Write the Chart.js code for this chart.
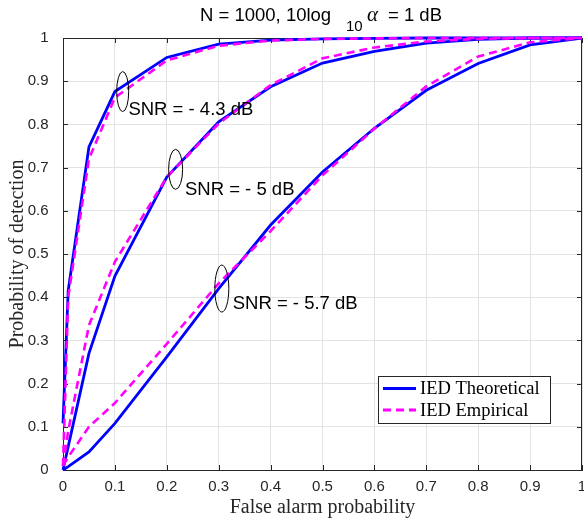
<!DOCTYPE html>
<html lang="en">
<head>
  <meta charset="UTF-8" />
  <title>IED detection – ROC</title>
  <script src="https://cdn.jsdelivr.net/npm/chart.js"></script>
  <style>
    html, body { margin: 0; padding: 0; background: #fff; overflow: hidden; }
    #roc { display: block; }
  </style>
</head>
<body>
<canvas id="roc" width="584" height="521"></canvas>

<script>
  // false alarm probability (x) and detection probability (y) for each SNR
  const pfa = [0, 0.01, 0.05, 0.1, 0.2, 0.3, 0.4, 0.5, 0.6, 0.7, 0.8, 0.9, 1];

  const theo43 = [0.108, 0.415, 0.748, 0.876, 0.955, 0.986, 0.995, 0.998, 0.999, 1, 1, 1, 1];
  const emp43  = [0.01, 0.40, 0.72, 0.862, 0.948, 0.982, 0.994, 0.998, 0.999, 1, 1, 1, 1];

  const theo50 = [0, 0.054, 0.27, 0.449, 0.678, 0.806, 0.887, 0.942, 0.969, 0.988, 0.997, 1, 1];
  const emp50  = [0.01, 0.09, 0.335, 0.482, 0.678, 0.802, 0.891, 0.953, 0.978, 0.992, 0.998, 1, 1];

  const theo57 = [0, 0.008, 0.042, 0.108, 0.262, 0.42, 0.567, 0.69, 0.791, 0.879, 0.941, 0.984, 1];
  const emp57  = [0.01, 0.03, 0.1, 0.155, 0.292, 0.432, 0.553, 0.682, 0.79, 0.888, 0.957, 0.99, 1];

  const ticks01 = [0, 0.1, 0.2, 0.3, 0.4, 0.5, 0.6, 0.7, 0.8, 0.9, 1];

  const seriesNames = ['IED Theoretical', 'IED Empirical'];

  // labelled ellipses, anchored in data units
  const snrNotes = [
    { text: 'SNR = - 4.3 dB', x: 0.115, y: 0.876, rx: 6, ry: 20, tx: 0.126, ty: 0.822 },
    { text: 'SNR = - 5 dB',   x: 0.217, y: 0.696, rx: 7, ry: 20, tx: 0.235, ty: 0.637 },
    { text: 'SNR = - 5.7 dB', x: 0.306, y: 0.42,  rx: 7, ry: 23.5, tx: 0.327, ty: 0.372 }
  ];

  const BLUE = '#0000ff';
  const MAGENTA = '#ff00ff';
  const AXIS = '#262626';
  const SANS = '"Liberation Sans", Arial, sans-serif';
  const SERIF = '"Liberation Serif", "Times New Roman", serif';

  const pts = ys => pfa.map((x, i) => ({ x: x, y: ys[i] }));

  function theo(ys) {
    return { data: pts(ys), borderColor: BLUE, borderWidth: 2.8, pointRadius: 0,
             showLine: true, tension: 0, clip: 4, order: 2 };
  }
  function emp(ys) {
    return { data: pts(ys), borderColor: MAGENTA, borderWidth: 2.6, borderDash: [8, 5],
             pointRadius: 0, showLine: true, tension: 0, clip: 4, order: 1 };
  }

  // box, inner tick marks, title, ellipses and legend
  const decorations = {
    id: 'decorations',
    beforeDatasetsDraw(chart) {
      const { ctx, chartArea: a, scales: { x, y } } = chart;
      ctx.save();
      ctx.strokeStyle = AXIS;
      ctx.lineWidth = 1;
      ctx.beginPath();
      ctx.moveTo(a.left, a.top + 0.5); ctx.lineTo(a.right, a.top + 0.5);
      ctx.moveTo(a.right - 0.5, a.top); ctx.lineTo(a.right - 0.5, a.bottom);
      ticks01.forEach(v => {
        const px = Math.round(x.getPixelForValue(v)) + 0.5;
        ctx.moveTo(px, a.bottom); ctx.lineTo(px, a.bottom - 5);
        ctx.moveTo(px, a.top); ctx.lineTo(px, a.top + 5);
        const py = Math.round(y.getPixelForValue(v)) + 0.5;
        ctx.moveTo(a.left, py); ctx.lineTo(a.left + 5, py);
        ctx.moveTo(a.right, py); ctx.lineTo(a.right - 5, py);
      });
      ctx.stroke();
      ctx.restore();
    },
    afterDatasetsDraw(chart) {
      const { ctx, scales: { x, y } } = chart;
      ctx.save();

      // title with subscript and greek alpha
      ctx.fillStyle = '#000';
      ctx.textBaseline = 'alphabetic';
      ctx.textAlign = 'left';
      ctx.font = '18.5px ' + SANS;
      ctx.fillText('N = 1000, 10log', 200, 21);
      ctx.font = '15px ' + SANS;
      ctx.fillText('10', 346, 31);
      ctx.font = 'italic 21px ' + SERIF;
      ctx.fillText('α', 367, 21);
      ctx.font = '18.5px ' + SANS;
      ctx.fillText('= 1 dB', 388, 21);

      // SNR notes
      ctx.strokeStyle = '#000';
      ctx.lineWidth = 1;
      snrNotes.forEach(n => {
        ctx.beginPath();
        ctx.ellipse(x.getPixelForValue(n.x), y.getPixelForValue(n.y), n.rx, n.ry, 0, 0, Math.PI * 2);
        ctx.stroke();
        ctx.font = '18.5px ' + SANS;
        ctx.fillText(n.text, x.getPixelForValue(n.tx), y.getPixelForValue(n.ty));
      });

      // legend box
      const lx = 378.5, ly = 376.5, lw = 172, lh = 47;
      ctx.fillStyle = '#fff';
      ctx.fillRect(lx, ly, lw, lh);
      ctx.strokeStyle = AXIS;
      ctx.strokeRect(lx, ly, lw, lh);
      const rows = [
        { name: seriesNames[0], color: BLUE, dash: [], yy: 388.5 },
        { name: seriesNames[1], color: MAGENTA, dash: [8, 5], yy: 410 }
      ];
      rows.forEach(r => {
        ctx.beginPath();
        ctx.setLineDash(r.dash);
        ctx.strokeStyle = r.color;
        ctx.lineWidth = 2.8;
        ctx.moveTo(383, r.yy); ctx.lineTo(416, r.yy);
        ctx.stroke();
        ctx.setLineDash([]);
        ctx.fillStyle = '#000';
        ctx.font = '18.5px ' + SERIF;
        ctx.textBaseline = 'middle';
        ctx.fillText(r.name, 420, r.yy + 1);
      });
      ctx.restore();
    }
  };

  new Chart(document.getElementById('roc'), {
    type: 'scatter',
    data: {
      datasets: [
        emp(emp43), emp(emp50), emp(emp57),
        theo(theo43), theo(theo50), theo(theo57)
      ]
    },
    options: {
      responsive: false,
      animation: false,
      layout: { padding: { top: 38, right: 2, left: 0, bottom: 0 } },
      plugins: { legend: { display: false }, tooltip: { enabled: false } },
      scales: {
        x: {
          type: 'linear', min: 0, max: 1,
          afterBuildTicks: s => { s.ticks = ticks01.map(v => ({ value: v })); },
          afterFit: s => { s.height = 51; s.paddingLeft = 0; s.paddingRight = 0; },
          ticks: { color: AXIS, font: { family: SANS, size: 15 }, padding: 8, maxRotation: 0,
                   autoSkip: false, callback: v => String(+v.toFixed(1)) },
          grid: { color: '#e3e3e3', drawTicks: false },
          border: { color: AXIS, width: 1 },
          title: { display: true, text: 'False alarm probability', color: AXIS,
                   font: { family: SERIF, size: 20 }, padding: { top: 0, bottom: 1 } }
        },
        y: {
          type: 'linear', min: 0, max: 1,
          afterBuildTicks: s => { s.ticks = ticks01.map(v => ({ value: v })); },
          afterFit: s => { s.width = 63; s.paddingTop = 0; s.paddingBottom = 0; },
          ticks: { color: AXIS, font: { family: SANS, size: 15 }, padding: 14.5,
                   autoSkip: false, callback: v => String(+v.toFixed(1)) },
          grid: { color: '#e3e3e3', drawTicks: false },
          border: { color: AXIS, width: 1 },
          title: { display: true, text: 'Probability of detection', color: AXIS,
                   font: { family: SERIF, size: 20 }, padding: { top: 5.5, bottom: 0 } }
        }
      }
    },
    plugins: [decorations]
  });
</script>
</body>
</html>
